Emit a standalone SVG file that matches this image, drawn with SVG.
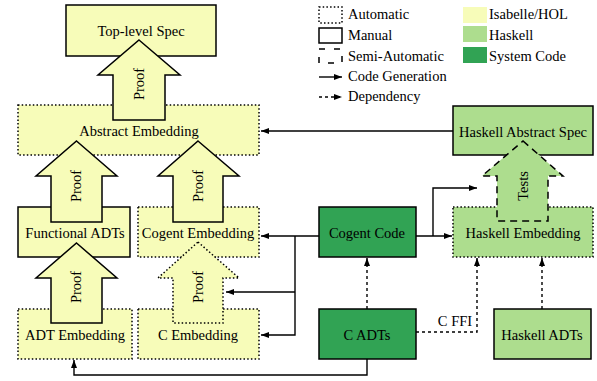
<svg xmlns="http://www.w3.org/2000/svg" width="597" height="381" viewBox="0 0 597 381" font-family="'Liberation Serif', serif">
<defs>
<marker id="ah" viewBox="0 0 8 6" refX="8" refY="3" markerWidth="8" markerHeight="6" markerUnits="userSpaceOnUse" orient="auto">
<path d="M0,0 L8,3 L0,6 z" fill="#000"/>
</marker>
<style>
text{font-family:"Liberation Serif","Times New Roman",serif;font-size:14.5px;fill:#000}
.c{text-anchor:middle}
.isa{fill:#f7fcb9}
.hs{fill:#addd8e}
.sys{fill:#31a354}
.solid{stroke:#000;stroke-width:1.5}
.dot{stroke:#000;stroke-width:1.5;stroke-dasharray:1.5 2.2}
.dash{stroke:#000;stroke-width:1.5;stroke-dasharray:7 5}
.ln{fill:none;stroke:#000;stroke-width:1.4}
.dep{fill:none;stroke:#000;stroke-width:1.4;stroke-dasharray:3 3}
</style>
</defs>
<rect width="597" height="381" fill="#fff"/>

<g id="legend">
<rect x="319" y="7" width="23" height="16" fill="none" class="dot"/>
<text x="348" y="19">Automatic</text>
<rect x="319" y="28" width="23" height="15" fill="none" class="solid"/>
<text x="348" y="40">Manual</text>
<rect x="319" y="49" width="23" height="14" fill="none" class="dash" style="stroke-dasharray:6 9"/>
<text x="348" y="61">Semi-Automatic</text>
<path d="M319,77 H342" class="ln" marker-end="url(#ah)"/>
<text x="348" y="81">Code Generation</text>
<path d="M319,97 H342" class="dep" marker-end="url(#ah)"/>
<text x="348" y="101">Dependency</text>
<rect x="463" y="7" width="24" height="16" class="isa"/>
<text x="489" y="19">Isabelle/HOL</text>
<rect x="463" y="26" width="24" height="16" class="hs"/>
<text x="489" y="40">Haskell</text>
<rect x="463" y="47" width="24" height="16" class="sys"/>
<text x="489" y="61">System Code</text>
</g>

<g id="connectors">
<path d="M453,131 H261" class="ln" marker-end="url(#ah)"/>
<path d="M319,236 H261" class="ln" marker-end="url(#ah)"/>
<path d="M295,236 V335 H261" class="ln" marker-end="url(#ah)"/>
<path d="M295,292 H226" class="ln" marker-end="url(#ah)"/>
<path d="M416,236 H452" class="ln" marker-end="url(#ah)"/>
<path d="M433,236 V188 H477" class="ln" marker-end="url(#ah)"/>
<path d="M367,359 V375 H74 V360" class="ln" marker-end="url(#ah)"/>
<path d="M367,309 V258" class="dep" marker-end="url(#ah)"/>
<path d="M416,332 H477 V258" class="dep" marker-end="url(#ah)"/>
<path d="M542,309 V258" class="dep" marker-end="url(#ah)"/>
<text class="c" x="455" y="326">C FFI</text>
</g>

<g id="top-level-spec">
<rect x="66" y="5" width="150" height="51" class="isa solid"/>
<text class="c" x="141" y="36">Top-level Spec</text>
</g>
<g id="abstract-embedding">
<rect x="18" y="105" width="241" height="50" class="isa dot"/>
<text class="c" x="139" y="136">Abstract Embedding</text>
</g>
<g id="functional-adts">
<rect x="18" y="207" width="112" height="50" class="isa solid"/>
<text class="c" x="75" y="238">Functional ADTs</text>
</g>
<g id="cogent-embedding">
<rect x="138" y="207" width="121" height="50" class="isa dot"/>
<text class="c" x="198" y="238">Cogent Embedding</text>
</g>
<g id="adt-embedding">
<rect x="18" y="309" width="114" height="50" class="isa dot"/>
<text class="c" x="75" y="340">ADT Embedding</text>
</g>
<g id="c-embedding">
<rect x="138" y="309" width="121" height="50" class="isa dot"/>
<text class="c" x="198" y="340">C Embedding</text>
</g>
<g id="cogent-code">
<rect x="319" y="207" width="97" height="50" class="sys solid"/>
<text class="c" x="367" y="238">Cogent Code</text>
</g>
<g id="c-adts">
<rect x="319" y="309" width="97" height="50" class="sys solid"/>
<text class="c" x="367" y="340">C ADTs</text>
</g>
<g id="haskell-abstract-spec">
<rect x="453" y="106" width="140" height="49" class="hs solid"/>
<text class="c" x="523" y="137">Haskell Abstract Spec</text>
</g>
<g id="haskell-embedding">
<rect x="453" y="207" width="140" height="50" class="hs dot"/>
<text class="c" x="523" y="238">Haskell Embedding</text>
</g>
<g id="haskell-adts">
<rect x="494" y="309" width="97" height="50" class="hs solid"/>
<text class="c" x="542" y="340">Haskell ADTs</text>
</g>

<g id="proof-top">
<polygon points="139,40 180,75 165,75 165,120 113,120 113,75 98,75" class="isa solid"/>
<text class="c" transform="translate(144,84) rotate(-90)">Proof</text>
</g>
<g id="proof-functional">
<polygon points="76.5,141 117,176 102,176 102,222 51,222 51,176 36,176" class="isa solid"/>
<text class="c" transform="translate(81,186) rotate(-90)">Proof</text>
</g>
<g id="proof-cogent">
<polygon points="198,141 239,176 223,176 223,222 173,222 173,176 158,176" class="isa solid"/>
<text class="c" transform="translate(203,186) rotate(-90)">Proof</text>
</g>
<g id="proof-adt">
<polygon points="76.5,243 117,278 102,278 102,323 51,323 51,278 36,278" class="isa solid"/>
<text class="c" transform="translate(81,287) rotate(-90)">Proof</text>
</g>
<g id="proof-c">
<polygon points="198,242 239,278 223,278 223,323 173,323 173,278 158,278" class="isa dot"/>
<text class="c" transform="translate(203,287) rotate(-90)">Proof</text>
</g>
<g id="tests">
<polygon points="523,141 563,176 548,176 548,221 497,221 497,176 482,176" class="hs dash"/>
<text class="c" transform="translate(528,186) rotate(-90)">Tests</text>
</g>
</svg>
